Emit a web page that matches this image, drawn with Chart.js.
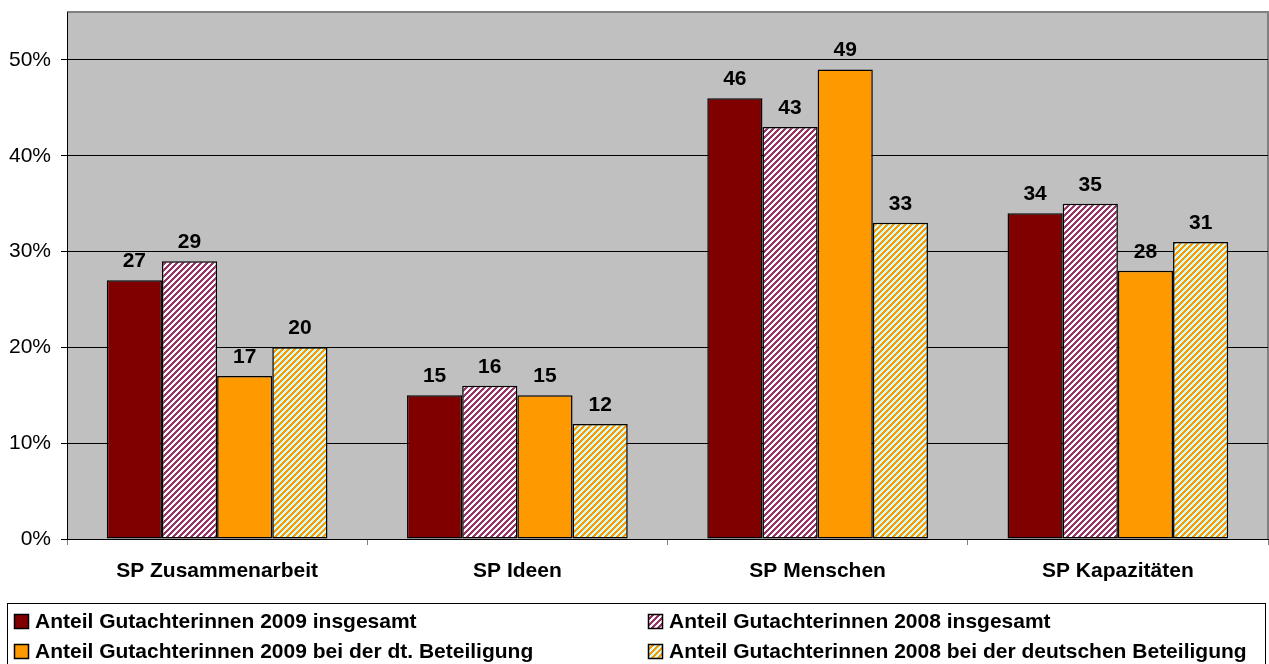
<!DOCTYPE html>
<html>
<head>
<meta charset="utf-8">
<script src="https://cdn.jsdelivr.net/npm/chart.js@4"></script>
<style>
  html, body { margin: 0; padding: 0; background: #fff; }
  #wrap { position: relative; width: 1269px; height: 664px; }
</style>
</head>
<body>
<div id="wrap"><canvas id="gutachterChart"></canvas></div>
<script>
// categories and values (percent)
const categories = ['SP Zusammenarbeit', 'SP Ideen', 'SP Menschen', 'SP Kapazitäten'];
const seriesNames = [
  'Anteil Gutachterinnen 2009 insgesamt',
  'Anteil Gutachterinnen 2008 insgesamt',
  'Anteil Gutachterinnen 2009 bei der dt. Beteiligung',
  'Anteil Gutachterinnen 2008 bei der deutschen Beteiligung'
];
const total2009 = [27, 15, 46, 34];
const total2008 = [29, 16, 43, 35];
const german2009 = [17, 15, 49, 28];
const german2008 = [20, 12, 33, 31];
const yTicks = [0, 10, 20, 30, 40, 50];

const FONT = "'Liberation Sans', Arial, sans-serif";

// diagonal stripe fill ("/" direction)
function stripes(ctx, c1, c2) {
  const n = 6;
  const tile = document.createElement('canvas');
  tile.width = n; tile.height = n;
  const t = tile.getContext('2d');
  for (let x = 0; x < n; x++) {
    for (let y = 0; y < n; y++) {
      t.fillStyle = ((x + y) % n < 3) ? c1 : c2;
      t.fillRect(x, y, 1, 1);
    }
  }
  return ctx.createPattern(tile, 'repeat');
}

const canvas = document.getElementById('gutachterChart');
const ctx = canvas.getContext('2d');

const fills = [
  '#800000',
  stripes(ctx, '#993366', '#ffffff'),
  '#ff9900',
  stripes(ctx, '#ff9900', '#ccffff')
];

// grey plot area with frame
const plotBackground = {
  id: 'plotBackground',
  beforeDraw(chart) {
    const a = chart.chartArea;
    const c = chart.ctx;
    c.save();
    c.fillStyle = '#c0c0c0';
    c.fillRect(a.left, a.top, a.right - a.left, a.bottom - a.top);
    c.strokeStyle = '#808080';
    c.lineWidth = 2;
    c.beginPath();
    c.moveTo(a.left, a.top);
    c.lineTo(a.right, a.top);
    c.lineTo(a.right, a.bottom);
    c.stroke();
    c.restore();
  }
};

// value labels above each bar
const valueLabels = {
  id: 'valueLabels',
  afterDatasetsDraw(chart) {
    const c = chart.ctx;
    c.save();
    c.font = 'bold 21px ' + FONT;
    c.fillStyle = '#000';
    c.textAlign = 'center';
    c.textBaseline = 'alphabetic';
    chart.data.datasets.forEach((ds, i) => {
      chart.getDatasetMeta(i).data.forEach((bar, j) => {
        c.fillText(String(ds.data[j]), bar.x, bar.y - 13);
      });
    });
    c.restore();
  }
};

// two column legend in a box under the axis
const boxLegend = {
  id: 'boxLegend',
  afterDraw(chart) {
    const c = chart.ctx;
    c.save();
    c.strokeStyle = '#000';
    c.lineWidth = 1;
    c.strokeRect(7.5, 603.5, 1258, 100);
    c.font = 'bold 21px ' + FONT;
    c.textBaseline = 'middle';
    c.textAlign = 'left';
    chart.data.datasets.forEach((ds, i) => {
      const col = i % 2, row = Math.floor(i / 2);
      const x = col === 0 ? 14 : 648;
      const y = row === 0 ? 621 : 651;
      c.fillStyle = ds.backgroundColor;
      c.fillRect(x, y - 7, 15, 15);
      c.strokeStyle = '#000';
      c.lineWidth = 1.5;
      c.strokeRect(x + 0.5, y - 6.5, 14, 14);
      c.fillStyle = '#000';
      c.fillText(ds.label, x + 21, y + 1);
    });
    c.restore();
  }
};

const seriesData = [total2009, total2008, german2009, german2008];

new Chart(ctx, {
  type: 'bar',
  data: {
    labels: categories,
    datasets: seriesData.map((d, i) => ({
      label: seriesNames[i],
      data: d,
      backgroundColor: fills[i],
      borderColor: '#000',
      borderWidth: 1.5,
      borderSkipped: false
    }))
  },
  options: {
    responsive: true,
    maintainAspectRatio: false,
    animation: false,
    layout: { padding: { top: 12, right: 1, bottom: 64, left: 0 } },
    datasets: { bar: { categoryPercentage: 0.735, barPercentage: 1 } },
    plugins: {
      legend: { display: false },
      tooltip: { enabled: false }
    },
    scales: {
      x: {
        afterFit(scale) { scale.height = 61; },
        grid: { offset: true, drawOnChartArea: false, tickLength: 6, color: '#808080' },
        border: { color: '#000', width: 1 },
        ticks: { color: '#000', font: { family: FONT, size: 21, weight: 'bold' }, padding: 14 }
      },
      y: {
        min: 0,
        max: 55,
        afterFit(scale) {
          scale.width = 67;
          scale.paddingTop = 0;
          scale.paddingBottom = 0;
        },
        afterBuildTicks(scale) { scale.ticks = yTicks.map(v => ({ value: v })); },
        grid: { color: '#000', tickLength: 6, lineWidth: 1 },
        border: { color: '#000', width: 1 },
        ticks: {
          color: '#000',
          padding: 10,
          font: { family: FONT, size: 21 },
          callback: v => v + '%'
        }
      }
    }
  },
  plugins: [plotBackground, valueLabels, boxLegend]
});
</script>
</body>
</html>
